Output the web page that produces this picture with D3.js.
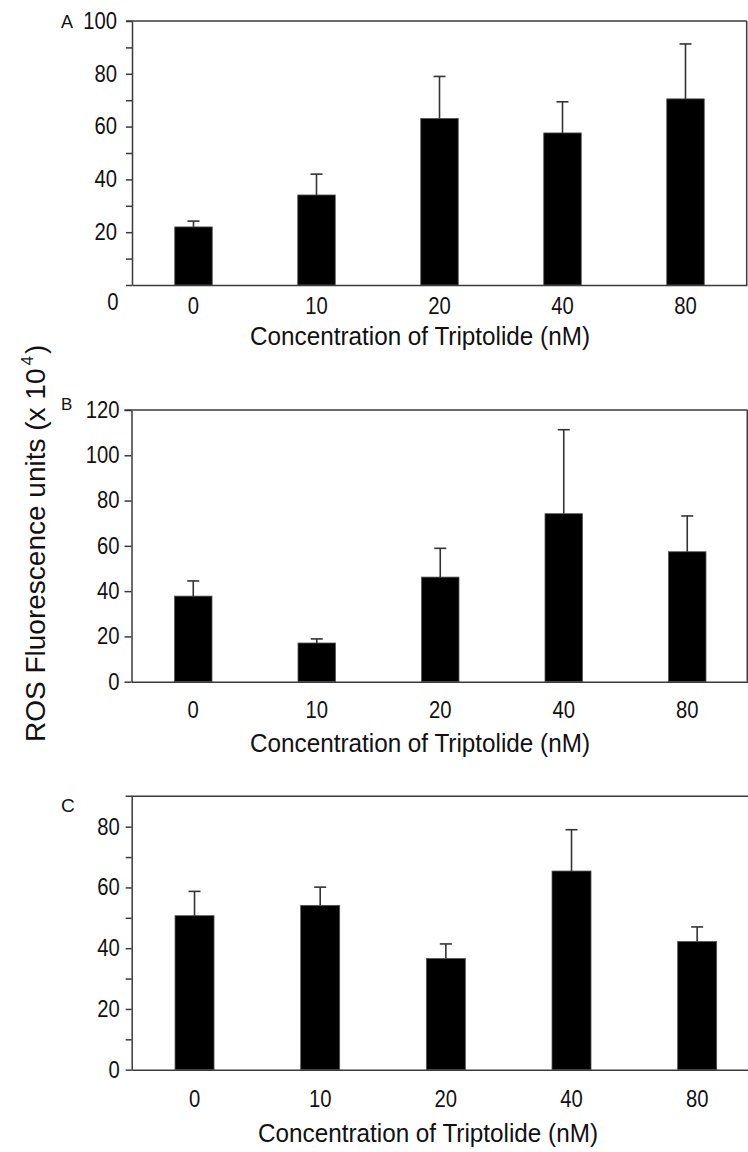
<!DOCTYPE html>
<html>
<head>
<meta charset="utf-8">
<script src="https://cdn.jsdelivr.net/npm/d3@7"></script>
<style>
  html, body { margin: 0; padding: 0; background: #fff; }
  svg { display: block; }
  text { font-family: "Liberation Sans", Arial, sans-serif; fill: #111; }
</style>
</head>
<body>
<svg id="chart" width="748" height="1152"></svg>
<script>
// ---------- data ----------
const categories = ["0", "10", "20", "40", "80"];

const meansA = [22.0, 34.1, 63.1, 57.6, 70.5];
const sdA    = [2.2, 7.9, 15.9, 11.8, 20.8];

const meansB = [37.8, 17.1, 46.2, 74.2, 57.4];
const sdB    = [6.7, 1.8, 12.7, 37.1, 15.8];

const meansC = [50.7, 54.1, 36.6, 65.4, 42.2];
const sdC    = [8.0, 6.0, 4.8, 13.6, 4.8];

const ticksA = [0, 20, 40, 60, 80, 100];
const minorA = [10, 30, 50, 70, 90];
const ticksB = [0, 20, 40, 60, 80, 100, 120];
const minorB = [];
const ticksC = [0, 20, 40, 60, 80];
const minorC = [10, 30, 50, 70];

const panelLabels = ["A", "B", "C"];
const xTitle = "Concentration of Triptolide (nM)";
const yTitleMain = "ROS Fluorescence units (x 10";
const yTitleSup = "4";
const yTitleEnd = ")";

// ---------- drawing ----------
const svg = d3.select("#chart");
const AX = "#3a3a3a";
const NUM_SIZE = 23;
const SQUEEZE = 0.88;

function condense(sel) {
  sel.each(function () {
    const t = this.textContent;
    if (!t) return;
    const w = this.getComputedTextLength();
    d3.select(this).attr("textLength", w * SQUEEZE).attr("lengthAdjust", "spacingAndGlyphs");
  });
}

function panel(o) {
  const g = svg.append("g");
  const step = (o.x1 - o.x0) / categories.length;
  const p = 1 - o.barW / step;
  const x = d3.scaleBand().domain(categories).range([o.x0, o.x1])
    .paddingInner(p).paddingOuter(p / 2);
  const y = d3.scaleLinear().domain([0, o.ymax]).range([o.yBottom, o.yTop]);
  const data = categories.map((c, i) => ({ c, m: o.means[i], s: o.sd[i] }));

  // bars
  g.selectAll("rect.bar").data(data).join("rect")
    .attr("class", "bar")
    .attr("x", d => x(d.c))
    .attr("width", x.bandwidth())
    .attr("y", d => y(d.m))
    .attr("height", d => y(0) - y(d.m))
    .attr("fill", "#000")
    .attr("stroke", "#555")
    .attr("stroke-width", 0.8);

  // error bars
  const eb = g.selectAll("g.eb").data(data).join("g").attr("class", "eb")
    .attr("stroke", "#333").attr("stroke-width", 1.6);
  eb.append("line")
    .attr("x1", d => x(d.c) + x.bandwidth() / 2)
    .attr("x2", d => x(d.c) + x.bandwidth() / 2)
    .attr("y1", d => y(d.m))
    .attr("y2", d => y(d.m + d.s));
  eb.append("line")
    .attr("x1", d => x(d.c) + x.bandwidth() / 2 - 6)
    .attr("x2", d => x(d.c) + x.bandwidth() / 2 + 6)
    .attr("y1", d => y(d.m + d.s))
    .attr("y2", d => y(d.m + d.s));

  // y axis
  const ya = g.append("g").attr("transform", `translate(${o.x0},0)`)
    .call(d3.axisLeft(y).tickValues(o.ticks).tickSize(o.tickLen)
      .tickSizeOuter(0).tickPadding(o.tickPad)
      .tickFormat(d => (o.hideZero && d === 0) ? "" : d));
  ya.selectAll("text").attr("font-size", NUM_SIZE)
    .attr("font-family", "Liberation Sans, Arial, sans-serif").attr("fill", "#111")
    .call(condense);
  ya.selectAll("line, path").attr("stroke", AX).attr("stroke-width", 1.5);

  if (o.minor.length) {
    const ym = g.append("g").attr("transform", `translate(${o.x0},0)`)
      .call(d3.axisLeft(y).tickValues(o.minor).tickSize(o.tickLen)
        .tickSizeOuter(0).tickFormat(""));
    ym.select("path").remove();
    ym.selectAll("line").attr("stroke", AX).attr("stroke-width", 1.5);
  }

  // x axis
  const xa = g.append("g").attr("transform", `translate(0,${y(0)})`)
    .call(d3.axisBottom(x).tickSize(0).tickSizeOuter(0).tickPadding(o.xPad));
  xa.selectAll("text").attr("font-size", NUM_SIZE)
    .attr("font-family", "Liberation Sans, Arial, sans-serif").attr("fill", "#111")
    .call(condense);
  xa.select("path").attr("stroke", AX).attr("stroke-width", 1.5);

  // top frame line and right border
  g.append("line").attr("x1", o.x0 - o.tickLen).attr("x2", o.right)
    .attr("y1", y(o.ymax)).attr("y2", y(o.ymax))
    .attr("stroke", AX).attr("stroke-width", 1.5);
  if (o.rightBorder) {
    g.append("line").attr("x1", o.right).attr("x2", o.right)
      .attr("y1", y(0)).attr("y2", y(o.ymax))
      .attr("stroke", AX).attr("stroke-width", 1.5);
  }

  // x title
  g.append("text")
    .attr("x", o.titleX).attr("y", o.titleY)
    .attr("font-size", 25)
    .attr("textLength", 340).attr("lengthAdjust", "spacingAndGlyphs")
    .text(xTitle);

  // panel label
  g.append("text").attr("x", o.labelX).attr("y", o.labelY)
    .attr("font-size", o.labelSize).text(o.label);

  return { x, y, g };
}

const pA = panel({
  means: meansA, sd: sdA, ticks: ticksA, minor: minorA, ymax: 100,
  x0: 132, x1: 747, barW: 37.5, yBottom: 285, yTop: 21,
  tickLen: 6, tickPad: 9, hideZero: true, xPad: 13, right: 746.7, rightBorder: true,
  titleX: 250, titleY: 345, label: panelLabels[0], labelX: 61, labelY: 28, labelSize: 18
});
// displaced zero label of panel A
pA.g.append("text").attr("x", 112.8).attr("y", 310).attr("text-anchor", "middle")
  .attr("font-size", NUM_SIZE).text(ticksA[0]).call(condense);

panel({
  means: meansB, sd: sdB, ticks: ticksB, minor: minorB, ymax: 120,
  x0: 131.5, x1: 749, barW: 37.5, yBottom: 681.7, yTop: 410,
  tickLen: 7, tickPad: 5, hideZero: false, xPad: 20, right: 747.3, rightBorder: true,
  titleX: 250, titleY: 752, label: panelLabels[1], labelX: 61, labelY: 410, labelSize: 17
});

panel({
  means: meansC, sd: sdC, ticks: ticksC, minor: minorC, ymax: 90,
  x0: 131.7, x1: 760, barW: 39, yBottom: 1069.7, yTop: 796.3,
  tickLen: 6, tickPad: 6, hideZero: false, xPad: 21, right: 760, rightBorder: false,
  titleX: 258, titleY: 1142, label: panelLabels[2], labelX: 61, labelY: 811.5, labelSize: 19
});

// shared y title
const yt = svg.append("text")
  .attr("transform", "translate(45,742) rotate(-90)")
  .attr("font-size", 28);
yt.append("tspan").text(yTitleMain);
yt.append("tspan").attr("font-size", 17).attr("dy", -12).attr("dx", 3).text(yTitleSup);
yt.append("tspan").attr("dy", 12).attr("dx", 2).text(yTitleEnd);
</script>
</body>
</html>
